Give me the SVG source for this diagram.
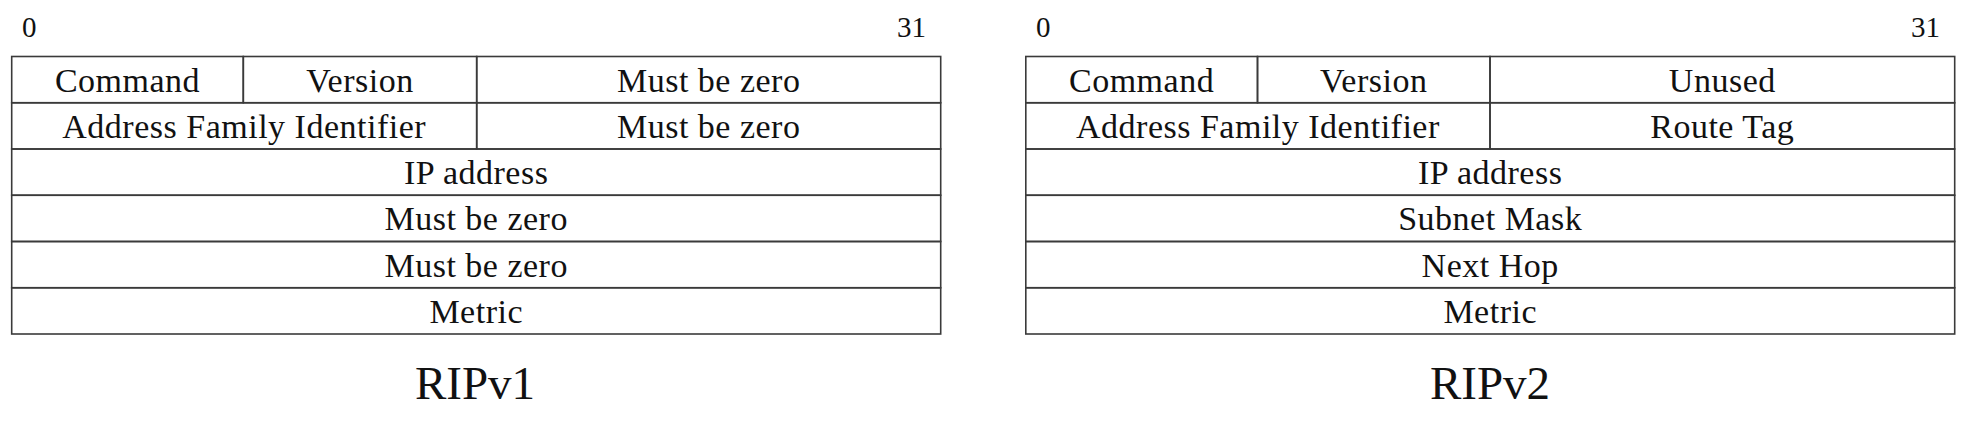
<svg xmlns="http://www.w3.org/2000/svg" width="1964" height="434" viewBox="0 0 1964 434">
<style>
.bg{fill:#ffffff}
.cell{fill:none;stroke:#3a3a3a;stroke-width:1.6}
.t{font-family:"Liberation Serif","Times New Roman",serif;font-size:34px;fill:#111;text-anchor:middle;letter-spacing:0.5px}
.n{font-family:"Liberation Serif","Times New Roman",serif;font-size:29px;fill:#111}
.title{font-family:"Liberation Serif","Times New Roman",serif;font-size:47px;fill:#111;text-anchor:middle}
</style>
<rect class="bg" x="0" y="0" width="1964" height="434"/>
<g id="ripv1">
  <text class="n" x="22" y="37">0</text>
  <text class="n" x="926" y="37" text-anchor="end">31</text>
  <g id="v1-command"><rect class="cell" x="11.7" y="56.5" width="231.6" height="46.25"/><text class="t" x="127.5" y="91.5">Command</text></g>
  <g id="v1-version"><rect class="cell" x="243.3" y="56.5" width="233.4" height="46.25"/><text class="t" x="360" y="91.5">Version</text></g>
  <g id="v1-mbz1"><rect class="cell" x="476.7" y="56.5" width="464" height="46.25"/><text class="t" x="708.7" y="91.5">Must be zero</text></g>
  <g id="v1-afi"><rect class="cell" x="11.7" y="102.75" width="465" height="46.25"/><text class="t" x="244.2" y="137.75">Address Family Identifier</text></g>
  <g id="v1-mbz2"><rect class="cell" x="476.7" y="102.75" width="464" height="46.25"/><text class="t" x="708.7" y="137.75">Must be zero</text></g>
  <g id="v1-ip"><rect class="cell" x="11.7" y="149" width="929" height="46.25"/><text class="t" x="476.2" y="184">IP address</text></g>
  <g id="v1-mbz3"><rect class="cell" x="11.7" y="195.25" width="929" height="46.25"/><text class="t" x="476.2" y="230.25">Must be zero</text></g>
  <g id="v1-mbz4"><rect class="cell" x="11.7" y="241.5" width="929" height="46.25"/><text class="t" x="476.2" y="276.5">Must be zero</text></g>
  <g id="v1-metric"><rect class="cell" x="11.7" y="287.75" width="929" height="46.25"/><text class="t" x="476.2" y="322.75">Metric</text></g>
  <text class="title" x="475" y="399">RIPv1</text>
</g>
<g id="ripv2">
  <text class="n" x="1036" y="37">0</text>
  <text class="n" x="1940" y="37" text-anchor="end">31</text>
  <g id="v2-command"><rect class="cell" x="1025.8" y="56.5" width="231.7" height="46.25"/><text class="t" x="1141.6" y="91.5">Command</text></g>
  <g id="v2-version"><rect class="cell" x="1257.5" y="56.5" width="232.5" height="46.25"/><text class="t" x="1373.7" y="91.5">Version</text></g>
  <g id="v2-unused"><rect class="cell" x="1490" y="56.5" width="464.7" height="46.25"/><text class="t" x="1722.3" y="91.5">Unused</text></g>
  <g id="v2-afi"><rect class="cell" x="1025.8" y="102.75" width="464.2" height="46.25"/><text class="t" x="1257.9" y="137.75">Address Family Identifier</text></g>
  <g id="v2-tag"><rect class="cell" x="1490" y="102.75" width="464.7" height="46.25"/><text class="t" x="1722.3" y="137.75">Route Tag</text></g>
  <g id="v2-ip"><rect class="cell" x="1025.8" y="149" width="928.9" height="46.25"/><text class="t" x="1490.2" y="184">IP address</text></g>
  <g id="v2-mask"><rect class="cell" x="1025.8" y="195.25" width="928.9" height="46.25"/><text class="t" x="1490.2" y="230.25">Subnet Mask</text></g>
  <g id="v2-hop"><rect class="cell" x="1025.8" y="241.5" width="928.9" height="46.25"/><text class="t" x="1490.2" y="276.5">Next Hop</text></g>
  <g id="v2-metric"><rect class="cell" x="1025.8" y="287.75" width="928.9" height="46.25"/><text class="t" x="1490.2" y="322.75">Metric</text></g>
  <text class="title" x="1490" y="399">RIPv2</text>
</g>
<g id="connectors"></g>
</svg>
